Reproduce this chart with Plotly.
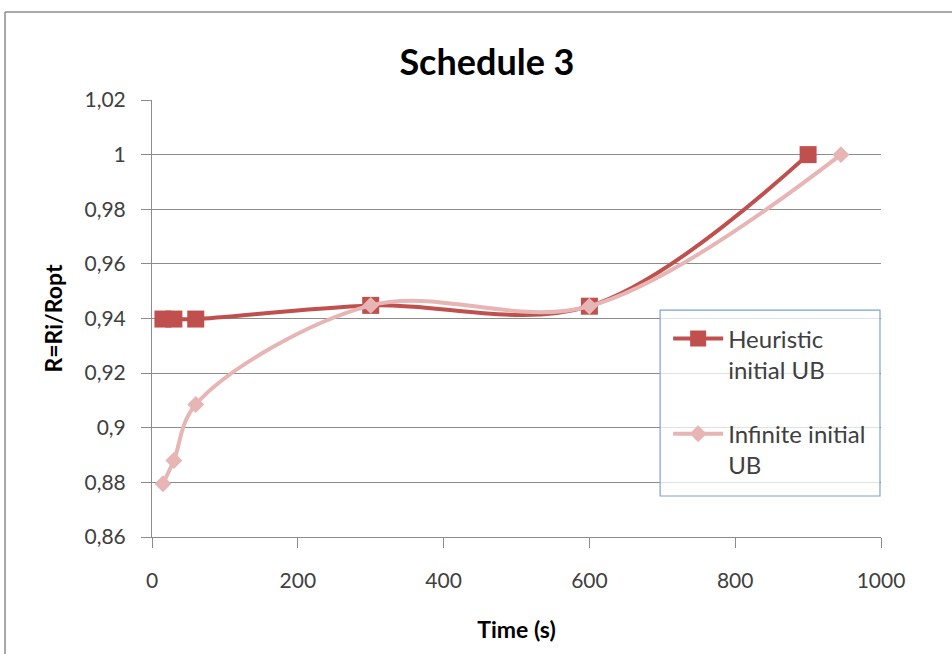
import plotly.graph_objects as go

# Run times (s) and ratio R = Ri / Ropt for each upper-bound strategy
heuristic_time = [15, 30, 60, 300, 600, 900]
heuristic_ratio = [0.9398, 0.9398, 0.9398, 0.9448, 0.9445, 1.0]

infinite_time = [15, 30, 60, 300, 600, 945]
infinite_ratio = [0.8795, 0.8880, 0.9085, 0.9448, 0.9445, 1.0]

y_ticks = [0.86, 0.88, 0.90, 0.92, 0.94, 0.96, 0.98, 1.00, 1.02]
y_tick_text = ["0,86", "0,88", "0,9", "0,92", "0,94", "0,96", "0,98", "1", "1,02"]
x_ticks = [0, 200, 400, 600, 800, 1000]

FONT = "Lato, 'Liberation Sans', sans-serif"
RED = "#c0504d"
PINK = "#e6b5b4"

fig = go.Figure()
fig.add_trace(go.Scatter(
    x=heuristic_time, y=heuristic_ratio, mode="lines+markers",
    name="Heuristic<br>initial UB", legendgroup="a",
    line=dict(color=RED, width=4, shape="spline", smoothing=1.0),
    marker=dict(symbol="square", size=17, color=RED),
))
fig.add_trace(go.Scatter(
    x=infinite_time, y=infinite_ratio, mode="lines+markers",
    name="Infinite initial<br>UB", legendgroup="b",
    line=dict(color=PINK, width=4, shape="spline", smoothing=1.0),
    marker=dict(symbol="diamond", size=13, color=PINK),
))

# Chart frame (left and top edges) and the legend box
shapes = [
    dict(type="line", xref="paper", yref="paper", x0=-0.2016, x1=-0.2016,
         y0=1.2014, y1=-0.3, line=dict(color="#8c8c8c", width=1.5)),
    dict(type="line", xref="paper", yref="paper", x0=-0.2016, x1=1.2,
         y0=1.2014, y1=1.2014, line=dict(color="#8c8c8c", width=1.5)),
    dict(type="rect", xref="paper", yref="paper", x0=0.697, x1=0.9986,
         y0=0.0938, y1=0.519, line=dict(color="#7da2d6", width=1.2),
         fillcolor="rgba(255,255,255,0.75)", layer="above"),
]

fig.update_layout(
    width=952, height=654,
    margin=dict(l=152, r=71, t=100, b=117),
    paper_bgcolor="white", plot_bgcolor="white",
    separators=",.",
    title=dict(text="<b>Schedule 3</b>", x=0.5115, xanchor="center",
               y=0.905, yanchor="middle",
               font=dict(family=FONT, size=36, color="#000000")),
    font=dict(family=FONT, size=21, color="#404040"),
    xaxis=dict(range=[0, 1000], tickvals=x_ticks, showgrid=False,
               showline=True, linecolor="#8c8c8c", linewidth=1,
               ticks="outside", ticklen=10, tickcolor="#8c8c8c",
               ticklabelstandoff=15, zeroline=False,
               title=dict(text="<b>Time (s)</b>", standoff=30,
                          font=dict(family=FONT, size=23, color="#000000"))),
    yaxis=dict(range=[0.86, 1.02], tickvals=y_ticks, ticktext=y_tick_text,
               showgrid=True, gridcolor="#8c8c8c", gridwidth=1,
               showline=True, linecolor="#8c8c8c", linewidth=1,
               ticks="outside", ticklen=10, tickcolor="#8c8c8c",
               ticklabelstandoff=11, zeroline=False,
               title=dict(text="<b>R=Ri/Ropt</b>", standoff=15,
                          font=dict(family=FONT, size=23, color="#000000"))),
    legend=dict(x=0.708, y=0.505, xanchor="left", yanchor="top",
                bgcolor="rgba(0,0,0,0)", borderwidth=0,
                font=dict(family=FONT, size=24, color="#404040"),
                valign="top", tracegroupgap=30, traceorder="grouped",
                itemwidth=50),
    shapes=shapes,
)

fig.write_html("out.html")
